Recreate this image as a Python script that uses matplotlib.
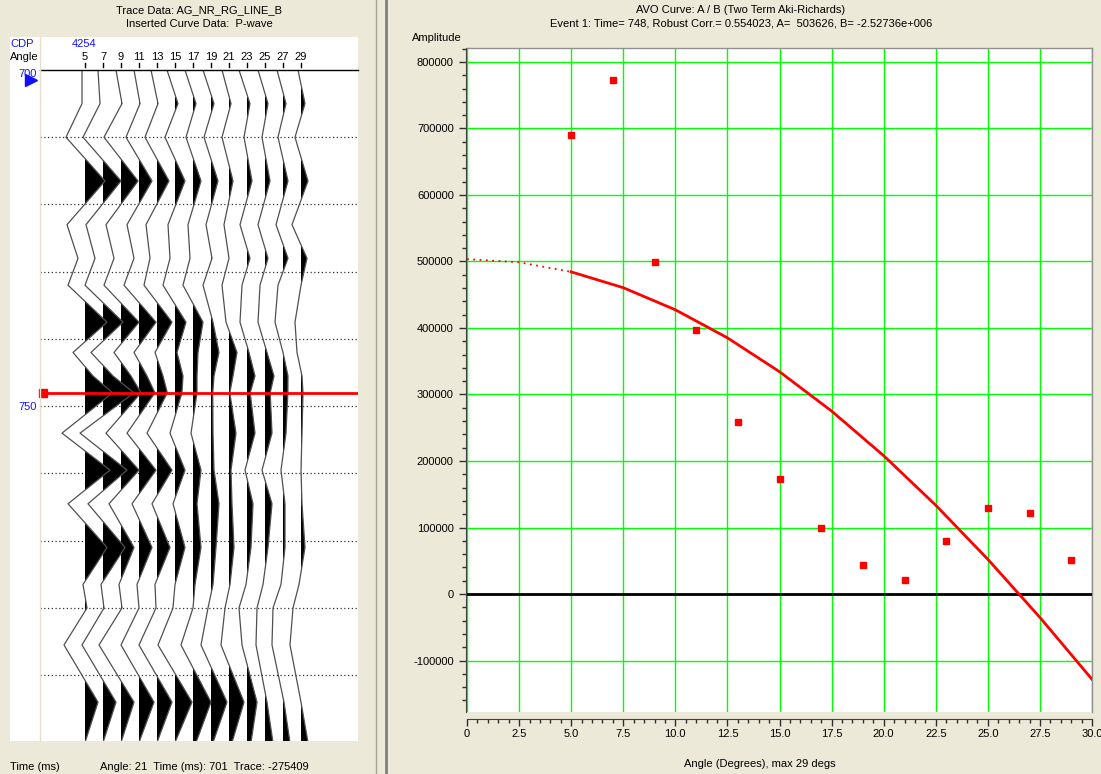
import numpy as np
import matplotlib
matplotlib.use("Agg")
import matplotlib.pyplot as plt
from matplotlib.patches import Rectangle
from matplotlib.lines import Line2D
from matplotlib.ticker import MultipleLocator, FuncFormatter

plt.rcParams['font.family'] = ['Liberation Sans', 'DejaVu Sans']

# --- data -------------------------------------------------------------
angles = [5, 7, 9, 11, 13, 15, 17, 19, 21, 23, 25, 27, 29]
avo_amp = [690000, 773000, 499000, 397000, 258000, 173000, 99000,
           44000, 21000, 80000, 129000, 122000, 51000]

# fitted Aki-Richards curve, read at every 2.5 degrees
curve_angle = [0, 2.5, 5, 7.5, 10, 12.5, 15, 17.5, 20, 22.5, 25, 27.5, 30]
curve_amp = [503600, 498800, 484400, 460600, 427400, 385200, 334300,
             275100, 208000, 133500, 52200, -35200, -128200]

# wiggle traces: sample times (ms) and amplitude (thousands) per angle
trace_time = [700, 705, 710, 716.5, 723, 728, 732, 737.5, 742, 745.5,
              748, 754, 759.5, 764.5, 771, 776.5, 780, 785.5, 794, 800]
tr5 = [-75, -75, -475, 500, -450, -175, -425, 550, -300, 200, 690, -575, 625, -425, 550, -50, 50, -525, 325, 0]
tr7 = [-125, -75, -500, 450, -425, -200, -450, 500, -300, 250, 773, -575, 600, -375, 550, -50, 25, -525, 325, 0]
tr9 = [-125, 25, -425, 425, -375, -175, -425, 450, -175, 250, 500, -375, 450, -300, 325, -50, 25, -550, 325, 0]
tr11 = [-125, 25, -325, 325, -300, -125, -375, 425, -125, 200, 398, -300, 425, -175, 325, -50, 0, -450, 375, 0]
tr13 = [-150, 25, -300, 300, -275, -175, -325, 375, -50, 150, 258, -250, 375, -125, 325, -50, -25, -450, 375, 0]
tr15 = [-200, 75, -250, 250, -175, -125, -300, 275, 50, 200, 173, -125, 250, -50, 250, 0, -50, -425, 425, 0]
tr17 = [-200, 75, -175, 200, -125, -75, -250, 250, 125, 100, 100, -50, 200, 100, 200, 50, 0, -300, 450, 75]
tr19 = [-200, 75, -175, 175, -125, 25, -200, 50, 200, 75, 44, 50, 75, 200, 125, 50, -75, -250, 400, 50]
tr21 = [-175, 50, -175, 100, -125, 0, -175, -75, 200, 100, 20, 175, 50, 75, 125, 25, -100, -200, 375, 75]
tr23 = [-200, 75, -75, 125, -175, 75, -125, -175, 50, 200, 80, 200, -50, 150, 100, -25, -200, -125, 250, 100]
tr25 = [-175, 75, -75, 125, -175, 75, -125, -175, 50, 225, 130, 175, -75, 175, 75, -50, -200, -225, 50, 200]
tr27 = [-150, 75, -125, 125, -175, 125, -125, -200, 0, 125, 122, 75, -50, 50, 50, -50, -250, -275, 25, 175]
tr29 = [-75, 100, -150, 175, -225, 150, 0, -150, -100, 25, 50, 25, 0, 25, 100, -50, -200, -275, 0, 175]
traces = [tr5, tr7, tr9, tr11, tr13, tr15, tr17, tr19, tr21, tr23, tr25, tr27, tr29]

event_time = 748
gain = 1 / 225.0   # thousands of amplitude -> degrees of offset

# --- layout helpers (pixel coords, origin top-left) -------------------
W, H = 1101, 774
BG = '#ECE9D8'


def box(x0, y0, x1, y1):
    return [x0 / W, 1 - y1 / H, (x1 - x0) / W, (y1 - y0) / H]


def txt(x, y, s, **kw):
    kw.setdefault('fontsize', 8)
    kw.setdefault('va', 'center')
    fig.text(x / W, 1 - y / H, s, **kw)


def vline(x, y0, y1, **kw):
    fig.add_artist(Line2D([x / W, x / W], [1 - y0 / H, 1 - y1 / H], **kw))


fig = plt.figure(figsize=(W / 100, H / 100), dpi=100, facecolor=BG)

# --- left panel: wiggle traces ----------------------------------------
fig.add_artist(Rectangle((10 / W, 1 - 741 / H), 348 / W, 704 / H,
                         facecolor='white', edgecolor='none', zorder=0))
vline(40, 37, 741, color='#E4E0CC', lw=1)
vline(376, 0, 774, color='#A8A598', lw=1)
vline(386, 0, 774, color='#808080', lw=2)

txt(199, 10, 'Trace Data: AG_NR_RG_LINE_B', ha='center')
txt(199, 24, 'Inserted Curve Data:  P-wave', ha='center')
txt(10, 44, 'CDP', color='#1010FF')
txt(72, 44, '4254', color='#1010FF')
txt(10, 57, 'Angle')

ax1 = fig.add_axes(box(40, 70, 358, 741))
ax1.axis('off')
ax1.patch.set_visible(False)

t = np.array(trace_time)
for ang, tr in zip(angles, traces):
    off = np.array(tr) * gain
    ax1.fill_betweenx(t, ang, ang + off, where=off > 0, interpolate=True,
                      color='black', lw=0, zorder=2)
    ax1.plot(ang + off, t, color='#505050', lw=0.9, zorder=3)
    ax1.plot([ang, ang], [698.9, 699.6], color='black', lw=1, clip_on=False)
    ax1.text(ang, 698.05, str(ang), ha='center', va='center', fontsize=8)

for tm in range(710, 800, 10):
    ax1.axhline(tm, color='#303030', lw=0.9, ls=(0, (1, 2)), zorder=1)
ax1.axhline(700, color='black', lw=1, clip_on=False, zorder=4)
ax1.axhline(event_time, color='#FF0000', lw=2, zorder=5)
ax1.plot([0.35], [event_time], 's', color='#FF0000', ms=6, zorder=6,
         clip_on=False)
ax1.set_xlim(0, 318 / 9)
ax1.set_ylim(700 + 671 / 6.725, 700)

txt(37, 74, '700', ha='right', color='#1010FF')
fig.add_artist(Line2D([31 / W], [1 - 80 / H], marker='>', color='#1010FF',
                      ms=8, ls='none'))
txt(37, 407, '750', ha='right', color='#1010FF')

txt(10, 767, 'Time (ms)')
txt(100, 767, 'Angle: 21  Time (ms): 701  Trace: -275409')

# --- right panel: AVO crossplot ---------------------------------------
txt(741, 10, 'AVO Curve: A / B (Two Term Aki-Richards)', ha='center')
txt(741, 24, 'Event 1: Time= 748, Robust Corr.= 0.554023, A=  503626, '
    'B= -2.52736e+006', ha='center')
txt(412, 38, 'Amplitude')

ax2 = fig.add_axes(box(467, 48, 1092, 712))
ax2.set_facecolor('white')
ax2.xaxis.set_major_locator(MultipleLocator(2.5))
ax2.xaxis.set_minor_locator(MultipleLocator(0.5))
ax2.yaxis.set_major_locator(MultipleLocator(100000))
ax2.yaxis.set_minor_locator(MultipleLocator(20000))
ax2.xaxis.set_major_formatter(FuncFormatter(lambda v, p: '0' if v == 0 else f'{v:.1f}'))
ax2.yaxis.set_major_formatter(FuncFormatter(lambda v, p: f'{v:.0f}'))
ax2.tick_params(which='major', direction='out', length=5, width=1,
                colors='#303030', labelsize=8, labelcolor='black')
ax2.tick_params(axis='x', which='major', pad=2)
ax2.tick_params(which='minor', direction='out', length=3, width=1,
                colors='#303030')
ax2.grid(True, which='major', color='#00FF00', lw=1)
ax2.set_axisbelow(True)
for s in ['top', 'right']:
    ax2.spines[s].set_color('#909090')
    ax2.spines[s].set_linewidth(1)
ax2.spines['left'].set_color('#404040')
ax2.spines['left'].set_position(('outward', 1))
ax2.spines['bottom'].set_color('#404040')
ax2.spines['bottom'].set_position(('outward', 5))

ax2.axhline(0, color='black', lw=2, zorder=3)

ca = np.array(curve_angle)
cv = np.array(curve_amp)
near = ca <= 5
far = ca >= 5
ax2.plot(ca[near], cv[near], color='#FF0000', lw=1.3, ls=(0, (1, 2.5)), zorder=4)
ax2.plot(ca[far], cv[far], color='#FF0000', lw=2, zorder=4)
ax2.plot(angles, avo_amp, 's', color='#FF0000', ms=5, mec='#FF0000', zorder=5)
ax2.set_xlim(0, 30)
ax2.set_ylim(-177400, 821000)

txt(760, 764, 'Angle (Degrees), max 29 degs', ha='center')

fig.savefig('out.png', dpi=100, facecolor=BG)
